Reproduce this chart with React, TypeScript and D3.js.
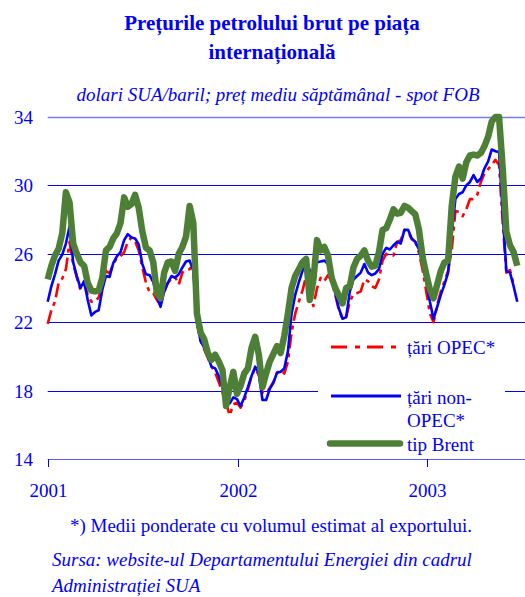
import React from "react";
import * as d3 from "d3";

const W = 525;
const H = 597;

const titleLines = ["Prețurile petrolului brut pe piața", "internațională"];
const subtitle = "dolari SUA/baril; preț mediu săptămânal - spot FOB";
const footnote = "*) Medii ponderate cu volumul estimat al exportului.";
const sourceLines = ["Sursa: website-ul Departamentului Energiei din cadrul", "Administrației SUA"];

const yTicks = [14, 18, 22, 26, 30, 34];
const xTickYears = [2001, 2002, 2003];
const seriesNames = ["țări OPEC*", "țări non-OPEC*", "tip Brent"];

// weekly averages, starting first week of January 2001
const opec = [
  21.9, 22.7, 23.2, 24.3, 24.55, 25.1, 26.7, 25.4, 24.6, 23.9,
  24.25, 23.6, 23.2, 23.2, 23.45, 24.15, 25.0, 24.85, 25.4, 25.75,
  25.85, 26.1, 26.7, 26.95, 26.75, 26.2, 25.2, 24.3, 23.75, 23.7,
  23.3, 23.0, 23.75, 24.3, 24.55, 24.65, 24.2, 24.9, 25.05, 25.1,
  25.4, 22.0, 20.9, 20.4, 19.9, 19.4, 19.05, 18.5, 17.9, 17.25,
  16.55, 17.2, 17.3, 17.0, 17.4, 18.05, 18.85, 19.3, 18.9, 17.9,
  17.85, 18.15, 18.5, 19.05, 19.2, 19.0, 19.7, 21.4, 22.5, 23.2,
  23.85, 24.7, 23.5, 22.95, 24.0, 24.6, 24.4, 24.75, 24.4, 23.6,
  22.7, 22.2, 22.3, 23.2, 23.65, 23.7, 23.8, 24.5, 24.4, 24.1,
  24.0, 24.5, 25.6, 26.0, 25.85, 25.9, 26.7, 26.8, 27.4, 27.3,
  26.85, 26.7, 26.05, 25.05, 23.8, 22.5, 22.0, 23.0, 23.8, 24.4,
  25.0, 26.2, 28.5, 28.45, 28.2, 28.6, 29.2, 29.2, 29.45, 30.2,
  30.7, 30.95, 31.2, 31.5, 31.2, 27.8, 24.9, 25.05, 24.2,
];

const nonOpec = [
  23.2, 24.1, 24.8, 25.6, 25.95, 26.6, 27.6, 25.5, 24.7, 24.0,
  24.4, 23.3, 22.4, 22.6, 22.7, 23.9, 24.7, 24.65, 25.45, 25.85,
  26.1, 26.8, 27.15, 26.95, 26.9, 26.55, 25.4, 24.8, 24.75, 24.35,
  23.5, 22.9, 23.8, 24.3, 24.7, 24.6, 24.8, 25.2, 25.55, 25.6,
  25.0, 22.0, 20.9, 20.5, 20.0, 19.4, 19.3, 18.85, 18.2, 17.35,
  17.25, 17.6, 17.5, 17.1, 17.6, 18.2, 18.85, 19.4, 19.0, 17.45,
  17.45, 18.1, 18.45, 19.05, 19.1, 19.3, 20.3, 22.5, 23.6, 24.35,
  25.0, 25.75, 25.0, 24.9, 25.5, 25.55, 25.6, 25.4, 24.9, 23.7,
  22.8, 22.2, 22.3, 23.8, 24.5, 24.7, 24.9, 25.4, 24.9, 24.75,
  24.85, 25.1, 26.0, 26.35, 26.25, 26.5, 26.7, 26.6, 27.4, 27.4,
  26.9, 26.7, 26.25, 25.45, 24.4, 23.2, 22.2, 22.9, 23.6, 24.2,
  24.9, 27.2, 29.2, 29.5, 29.6, 30.0, 30.2, 30.6, 30.2, 30.4,
  31.0, 31.4, 32.1, 32.0, 31.95, 28.4, 25.0, 24.9, 24.1, 23.2,
];

const brent = [
  24.5, 25.3, 25.9, 26.3, 27.2, 29.6, 29.0, 26.6, 26.0, 25.5,
  25.3, 24.3, 23.85, 23.8, 23.85, 24.6, 26.2, 26.4, 26.9, 27.2,
  27.8, 29.3, 28.75, 28.9, 29.45, 28.7, 27.3, 26.35, 26.2, 25.5,
  23.7, 23.4, 24.9, 25.5, 25.55, 25.0, 26.0, 26.4, 27.0, 28.8,
  27.8, 22.5, 21.4, 21.0, 20.2, 19.8, 20.1, 19.7, 19.2, 17.1,
  18.2, 19.1, 17.8, 18.3, 19.0, 19.3, 20.5, 21.15, 20.1, 18.2,
  19.0, 19.7, 20.15, 20.6, 20.2, 21.2, 22.5, 24.0, 24.7, 25.1,
  25.5, 25.7, 23.3, 24.5, 26.8, 26.2, 26.4, 25.9, 24.6, 24.0,
  23.55, 23.1, 24.0, 24.1, 25.2, 25.7, 25.9, 26.2, 25.6, 25.25,
  25.3, 26.1, 27.4, 27.5, 28.0, 28.6, 28.35, 28.4, 28.8, 28.7,
  28.5, 28.3, 27.4, 25.8, 24.8, 23.9, 23.4, 24.2, 25.0, 25.5,
  25.6, 28.8, 30.5, 31.1, 30.4, 31.35, 31.75, 31.8, 31.75, 31.9,
  32.3, 32.85, 33.75, 34.0, 34.0, 31.0, 27.3, 26.5, 26.1, 25.3,
];

const startDate = new Date(2001, 0, 1);
const weekDate = (i: number) => d3.timeDay.offset(startDate, 7 * i);

const BLUE = "#0000FF";
const GREEN = "#4E7F36";
const FONT = "'Times New Roman', 'Liberation Serif', serif";

export default function App() {
  const x = d3
    .scaleTime()
    .domain([new Date(2001, 0, 1), new Date(2003, 0, 1)])
    .range([47.7, 427.3]);
  const y = d3.scaleLinear().domain([14, 34]).range([459, 117]);

  const line = d3
    .line<number>()
    .x((_, i) => x(weekDate(i)))
    .y((d) => y(d))
    .curve(d3.curveLinear);

  const plotLeft = 47.7;
  const plotRight = 525;

  const legendX0 = 331;
  const legendX1 = 399;

  return (
    <svg
      width={W}
      height={H}
      viewBox={`0 0 ${W} ${H}`}
      style={{ position: "absolute", left: 0, top: 0, background: "#fff" }}
      fontFamily={FONT}
    >
      <rect x={0} y={0} width={W} height={H} fill="#fff" />
      {/* title */}
      <text x={272} y={30} textAnchor="middle" fontSize={21} fontWeight="bold" fill={BLUE}>
        {titleLines[0]}
      </text>
      <text x={272} y={59} textAnchor="middle" fontSize={21} fontWeight="bold" fill={BLUE}>
        {titleLines[1]}
      </text>
      <text x={278} y={101} textAnchor="middle" fontSize={19} fontStyle="italic" fill={BLUE}>
        {subtitle}
      </text>

      {/* gridlines */}
      {yTicks.map((t) => (
        <line
          key={t}
          x1={plotLeft}
          x2={plotRight}
          y1={Math.round(y(t)) + 0.5}
          y2={Math.round(y(t)) + 0.5}
          stroke={t === 34 ? "#7a7af5" : t === 14 ? "#5a5aff" : BLUE}
          strokeWidth={t === 34 ? 1.6 : 1}
        />
      ))}
      {/* y tick labels */}
      {yTicks.map((t) => (
        <text key={t} x={33} y={y(t) + 7} textAnchor="end" fontSize={19} fill={BLUE}>
          {t}
        </text>
      ))}
      {/* x ticks */}
      {xTickYears.map((yr) => {
        const xx = Math.round(x(new Date(yr, 0, 1))) + 0.5;
        return (
          <g key={yr}>
            <line x1={xx} x2={xx} y1={459} y2={467} stroke={BLUE} strokeWidth={1} />
            <text x={xx} y={497} textAnchor="middle" fontSize={19} fill={BLUE}>
              {yr}
            </text>
          </g>
        );
      })}

      {/* series */}
      <path
        d={line(opec) || ""}
        fill="none"
        stroke="#FF0000"
        strokeWidth={2.6}
        strokeDasharray="14 5 4 5"
        strokeLinejoin="round"
      />
      <path d={line(nonOpec) || ""} fill="none" stroke={BLUE} strokeWidth={2.6} strokeLinejoin="round" />
      <path d={line(brent) || ""} fill="none" stroke={GREEN} strokeWidth={6.5} strokeLinejoin="round" />

      {/* legend */}
      <rect x={318} y={330} width={187} height={127} fill="#fff" />
      <line
        x1={legendX0}
        x2={legendX1}
        y1={347}
        y2={347}
        stroke="#FF0000"
        strokeWidth={3.2}
        strokeDasharray="16 8 5 7"
      />
      <text x={407} y={354} fontSize={19} fill={BLUE}>
        {seriesNames[0]}
      </text>
      <line x1={legendX0} x2={legendX1 + 2} y1={396} y2={396} stroke={BLUE} strokeWidth={3} />
      <text x={407} y={404} fontSize={19} fill={BLUE}>
        țări non-
      </text>
      <text x={407} y={427} fontSize={19} fill={BLUE}>
        OPEC*
      </text>
      <line
        x1={legendX0 - 1}
        x2={legendX1 + 1}
        y1={443.5}
        y2={443.5}
        stroke={GREEN}
        strokeWidth={6.5}
        strokeLinecap="round"
      />
      <text x={407} y={451} fontSize={19} fill={BLUE}>
        {seriesNames[2]}
      </text>

      {/* notes */}
      <text x={271} y={532} textAnchor="middle" fontSize={19} fill={BLUE}>
        {footnote}
      </text>
      <text x={52} y={566} fontSize={19} fontStyle="italic" fill={BLUE}>
        {sourceLines[0]}
      </text>
      <text x={52} y={592} fontSize={19} fontStyle="italic" fill={BLUE}>
        {sourceLines[1]}
      </text>
    </svg>
  );
}
